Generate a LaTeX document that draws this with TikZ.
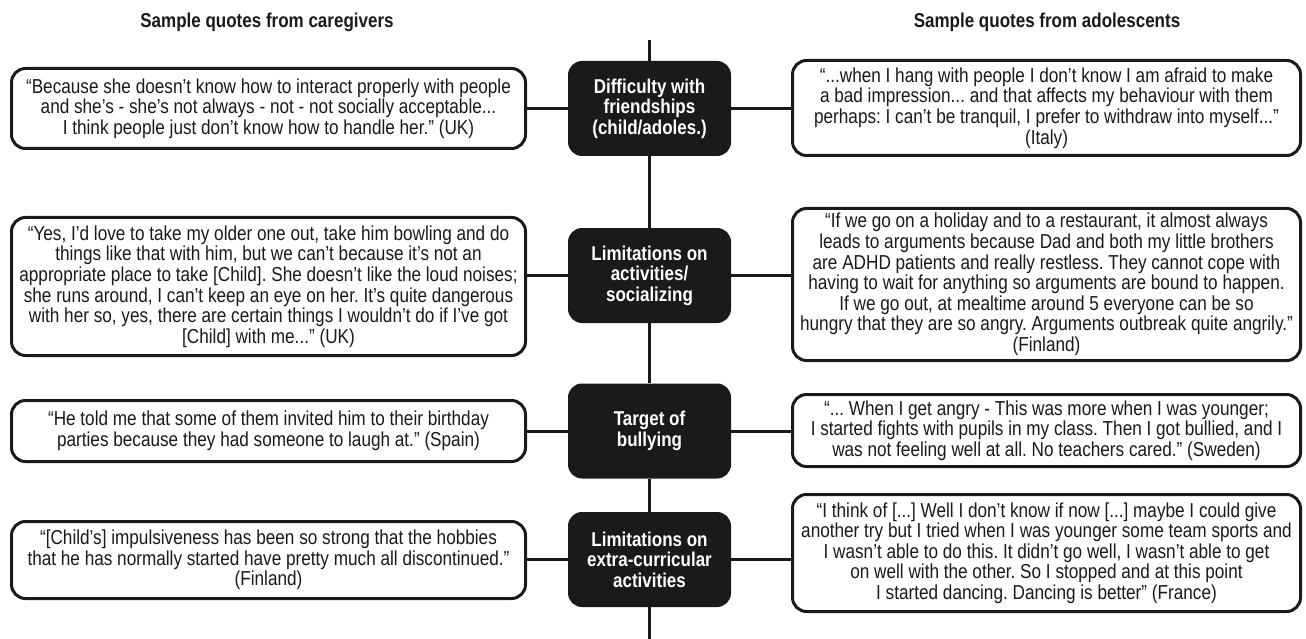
\documentclass[tikz,border=0pt]{standalone}
\usepackage{fontspec}
\setmainfont{Liberation Sans}[FakeStretch=0.85]
\frenchspacing
\definecolor{ink}{HTML}{1A1A1A}
\begin{document}
\begin{tikzpicture}[x=1pt,y=-1pt,
  quote/.style={draw=ink, line width=3pt, rounded corners=14pt, fill=white,
    align=center, inner sep=0pt, text=ink, font=\fontsize{20.2}{20.6}\selectfont},
  lquote/.style={quote, minimum width=514pt},
  rquote/.style={quote, minimum width=508pt},
  theme/.style={fill=ink, rounded corners=14pt, text=white, align=center,
    inner sep=0pt, minimum width=163pt, minimum height=95pt,
    font=\bfseries\fontsize{20}{20.5}\selectfont},
  heading/.style={font=\bfseries\fontsize{20}{20}\selectfont, inner sep=0pt, text=ink},
  link/.style={draw=ink, line width=3pt}]
\useasboundingbox (0,0) rectangle (1306,639);

\node[heading] (hl) at (267,22) {Sample quotes from caregivers};
\node[heading] (hr) at (1047,22) {Sample quotes from adolescents};

\coordinate (top) at (649.5,40);
\coordinate (bot) at (649.5,639);

\node[theme] (c1) at (649.5,108.5) {Difficulty with\\friendships\\(child/adoles.)};
\node[theme] (c2) at (649.5,275.5) {Limitations on\\activities/\\socializing};
\node[theme] (c3) at (649.5,431) {Target of\\bullying};
\node[theme] (c4) at (649.5,559.5) {Limitations on\\extra-curricular\\activities};

\node[lquote, minimum height=80pt] (l1) at (268.5,108.5) {“Because she doesn’t know how to interact properly with people\\and she’s - she’s not always - not - not socially acceptable...\\I think people just don’t know how to handle her.” (UK)};
\node[lquote, minimum height=138pt] (l2) at (268.5,286.5) {“Yes, I’d love to take my older one out, take him bowling and do\\things like that with him, but we can’t because it’s not an\\appropriate place to take {[}Child{]}. She doesn’t like the loud noises;\\she runs around, I can’t keep an eye on her. It’s quite dangerous\\with her so, yes, there are certain things I wouldn’t do if I’ve got\\{[}Child{]} with me...” (UK)};
\node[lquote, minimum height=61pt] (l3) at (268.5,431) {“He told me that some of them invited him to their birthday\\parties because they had someone to laugh at.” (Spain)};
\node[lquote, minimum height=77pt] (l4) at (268.5,560) {“{[}Child’s{]} impulsiveness has been so strong that the hobbies\\that he has normally started have pretty much all discontinued.”\\(Finland)};

\node[rquote, minimum height=95pt] (r1) at (1046.5,108) {“...when I hang with people I don’t know I am afraid to make\\a bad impression... and that affects my behaviour with them\\perhaps: I can’t be tranquil, I prefer to withdraw into myself...”\\(Italy)};
\node[rquote, minimum height=152pt] (r2) at (1046.5,284.5) {“If we go on a holiday and to a restaurant, it almost always\\leads to arguments because Dad and both my little brothers\\are ADHD patients and really restless. They cannot cope with\\having to wait for anything so arguments are bound to happen.\\If we go out, at mealtime around 5 everyone can be so\\hungry that they are so angry. Arguments outbreak quite angrily.”\\(Finland)};
\node[rquote, minimum height=72pt] (r3) at (1046.5,430.5) {“... When I get angry - This was more when I was younger;\\I started fights with pupils in my class. Then I got bullied, and I\\was not feeling well at all. No teachers cared.” (Sweden)};
\node[rquote, minimum height=117pt] (r4) at (1046.5,553) {“I think of {[}...{]} Well I don’t know if now {[}...{]} maybe I could give\\another try but I tried when I was younger some team sports and\\I wasn’t able to do this. It didn’t go well, I wasn’t able to get\\on well with the other. So I stopped and at this point\\I started dancing. Dancing is better” (France)};

\draw[link] (top) -- (c1.north);
\draw[link] (c1.south) -- (c2.north);
\draw[link] (c2.south) -- (c3.north);
\draw[link] (c3.south) -- (c4.north);
\draw[link] (c4.south) -- (bot);

\foreach \i in {1,2,3,4}{
  \draw[link] (c\i.west) -- (c\i.west -| l\i.east);
  \draw[link] (c\i.east) -- (c\i.east -| r\i.west);
}
\end{tikzpicture}
\end{document}
